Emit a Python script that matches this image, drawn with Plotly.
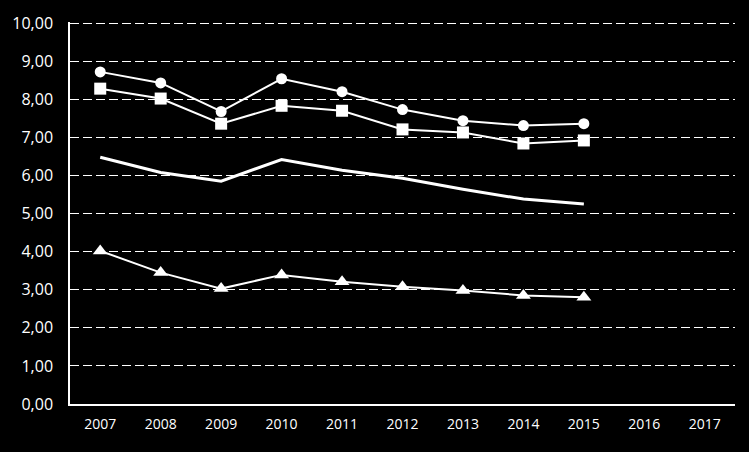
import plotly.graph_objects as go

years = ["2007", "2008", "2009", "2010", "2011", "2012", "2013", "2014", "2015", "2016", "2017"]

circles = [8.72, 8.43, 7.68, 8.54, 8.20, 7.73, 7.44, 7.31, 7.36]
squares = [8.28, 8.02, 7.36, 7.83, 7.70, 7.21, 7.13, 6.84, 6.92]
plain = [6.48, 6.08, 5.85, 6.42, 6.14, 5.93, 5.64, 5.38, 5.25]
triangles = [4.02, 3.45, 3.03, 3.39, 3.21, 3.08, 2.98, 2.85, 2.80]

fig = go.Figure()

fig.add_trace(go.Scatter(x=years[:len(circles)], y=circles, mode="lines+markers",
                         line=dict(color="white", width=2),
                         marker=dict(symbol="circle", size=11, color="white")))
fig.add_trace(go.Scatter(x=years[:len(squares)], y=squares, mode="lines+markers",
                         line=dict(color="white", width=2),
                         marker=dict(symbol="square", size=12, color="white")))
fig.add_trace(go.Scatter(x=years[:len(plain)], y=plain, mode="lines",
                         line=dict(color="white", width=3)))
fig.add_trace(go.Scatter(x=years[:len(triangles)], y=triangles, mode="lines+markers",
                         line=dict(color="white", width=2),
                         marker=dict(symbol="triangle-up", size=13, color="white")))

fig.update_layout(
    width=749, height=452,
    paper_bgcolor="black", plot_bgcolor="black",
    margin=dict(l=67, r=14, t=20, b=48),
    showlegend=False,
    separators=", ",
    font=dict(family="Open Sans", size=14, color="white"),
)
fig.update_xaxes(type="category", categoryorder="array", categoryarray=years,
                 range=[-0.5, len(years) - 0.5], showgrid=False,
                 showline=True, linecolor="white", linewidth=1.5,
                 ticks="", tickfont=dict(size=14), ticklabelstandoff=6)
# tiny headroom so the 10,00 gridline is still drawn
fig.update_yaxes(range=[0, 10.03], dtick=1, tickformat=".2f",
                 showgrid=True, gridcolor="white", griddash="9px,4px", gridwidth=1,
                 showline=True, linecolor="white", linewidth=1.5,
                 zeroline=False, ticks="", tickfont=dict(size=16), ticklabelstandoff=12)

# drop the page margin so the figure fills the window
fig.write_html("out.html", config={"displayModeBar": False},
               post_script="document.body.style.margin='0';document.body.style.background='black';")
